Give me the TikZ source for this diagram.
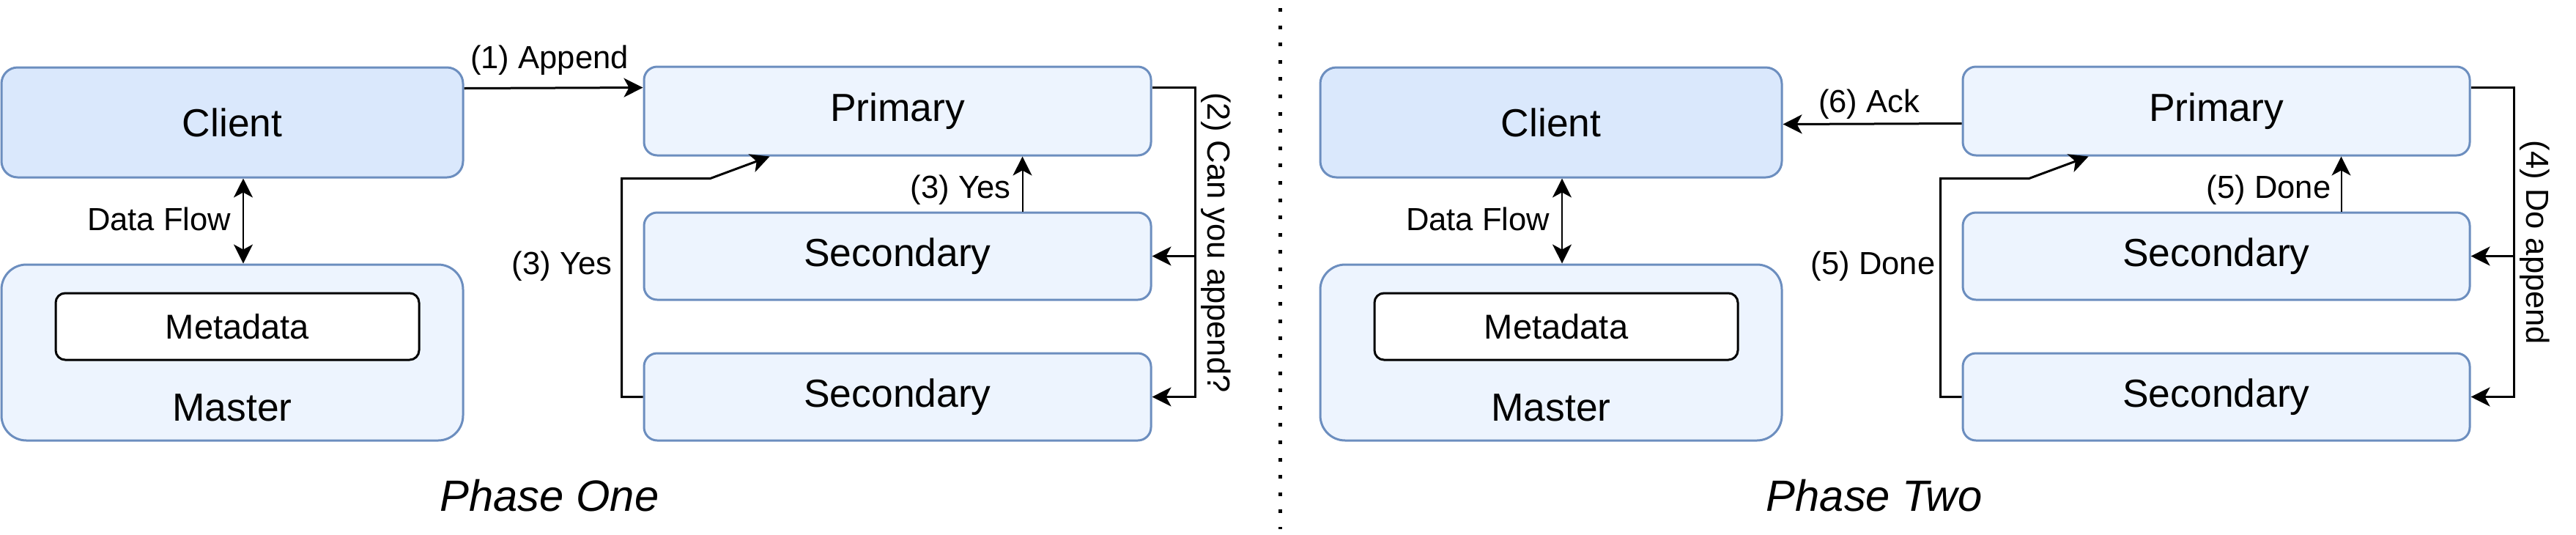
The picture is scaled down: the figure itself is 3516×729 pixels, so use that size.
\documentclass[tikz,border=0pt]{standalone}
\usepackage{fontspec}
\setmainfont{Liberation Sans}
\usetikzlibrary{arrows.meta,calc}
\definecolor{edge}{HTML}{6C8EBF}
\definecolor{cfill}{HTML}{DAE8FC}
\definecolor{sfill}{HTML}{EDF4FE}
\tikzset{
	box/.style={draw=edge,line width=0.03cm,fill=sfill,rounded corners=0.18cm,inner sep=0pt,minimum width=6.92cm,minimum height=1.19cm,font=\fontsize{15.2}{18}\selectfont},
	lbl/.style={inner sep=0pt,font=\fontsize{12.4}{15}\selectfont},
	line/.style={line width=0.03cm},
	thin line/.style={line width=0.02cm},
	>={Stealth[length=0.26cm,width=0.26cm,inset=0.07cm]}
}

\begin{document}
\begin{tikzpicture}[x=0.1mm,y=-0.1mm]
		\useasboundingbox (0,0) rectangle (3516,729);
		\foreach \i/\dx/\ph/\px in {1/0/One/750,2/1800/Two/2558}{
			\node[box,fill=cfill,minimum width=6.3cm,minimum height=1.5cm,rounded corners=0.22cm] (client\i) at (317+\dx,167) {Client};
			\node[box,minimum width=6.3cm,minimum height=2.4cm,rounded corners=0.34cm] (master\i) at (317+\dx,481) {};
			\node[draw,line width=0.03cm,fill=white,rounded corners=0.13cm,inner sep=0pt,minimum width=4.96cm,minimum height=0.91cm,font=\fontsize{13.4}{16}\selectfont] (meta\i) at (324+\dx,445.5) {Metadata};
			\node[anchor=base,inner sep=0pt,font=\fontsize{15.2}{18}\selectfont] (mname\i) at (317+\dx,574) {Master};
			\node[box,minimum height=1.21cm] (primary\i) at (1225+\dx,151.5) {Primary};
			\node[box] (seca\i) at (1225+\dx,349.5) {Secondary};
			\node[box] (secb\i) at (1225+\dx,541.5) {Secondary};
			\draw[thin line,<->] ($(client\i.south)+(15,0)$) -- ($(master\i.north)+(15,0)$);
			\node[lbl,anchor=base east] (flow\i) at (316+\dx,314) {Data Flow};
			\draw[line,->] ($(primary\i.north east)+(0,30)$) -- ++(59,0) coordinate (bend\i) |- (secb\i.east);
			\draw[line,->] (bend\i |- seca\i.east) -- (seca\i.east);
			\draw[line,->] (secb\i.west) -- ++(-29,0) |- ($(primary\i.south west)+(92,30)$) -- ($(primary\i.south west)+(173,0)$);
			\draw[thin line,->] ($(seca\i.north west)+(518,0)$) -- ($(primary\i.south west)+(518,0)$);
			\node[anchor=base,inner sep=0pt,font=\fontsize{17}{20}\selectfont\itshape] (phase\i) at (\px,697) {Phase \ph};
		}
		\draw[line,->] ($(client1.north east)+(0,30)$) -- ($(primary1.north west)+(0,30)$);
		\node[lbl,anchor=base] (append) at (750,93) {(1) Append};
		\node[lbl,rotate=-90] (ask) at (1660,331) {(2) Can you append?};
		\node[lbl,anchor=base east] (yesup) at (1380,270) {(3) Yes};
		\node[lbl,anchor=base east] (yesleft) at (836,374) {(3) Yes};
		\node[lbl,rotate=-90] (doit) at (3460,331) {(4) Do append};
		\node[lbl,anchor=base east] (doneup) at (3182,270) {(5) Done};
		\node[lbl,anchor=base east] (doneleft) at (2642,374) {(5) Done};
		\draw[line,->] ($(primary2.north west)+(0,79)$) -- ($(client2.north east)+(0,79)$);
		\node[lbl,anchor=base] (ack) at (2551,153) {(6) Ack};
		\draw[line width=0.05cm,dash pattern=on 0.05cm off 0.186cm] (1747,11) -- (1747,722);
	\end{tikzpicture}
\end{document}
